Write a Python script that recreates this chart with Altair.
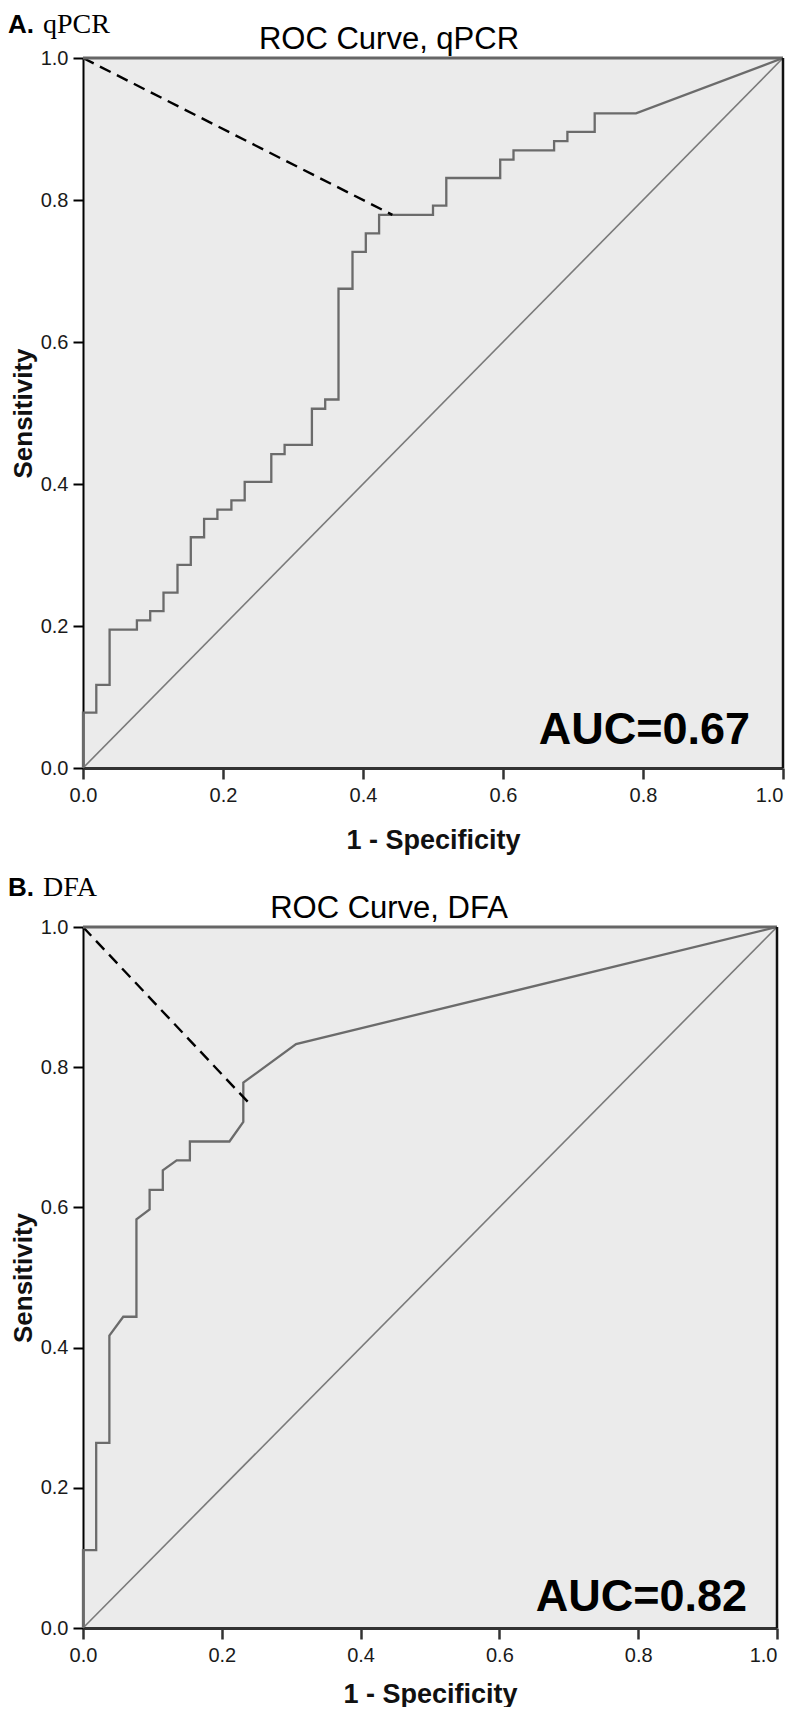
import altair as alt
import pandas as pd

# ---------------- data ----------------
A_FPR = [0.0, 0.0, 0.019, 0.019, 0.038, 0.038, 0.077, 0.077, 0.096, 0.096,
         0.115, 0.115, 0.135, 0.135, 0.154, 0.154, 0.173, 0.173, 0.192, 0.192,
         0.212, 0.212, 0.231, 0.231, 0.269, 0.269, 0.288, 0.288, 0.327, 0.327,
         0.346, 0.346, 0.365, 0.365, 0.385, 0.385, 0.404, 0.404, 0.423, 0.423,
         0.500, 0.500, 0.519, 0.519, 0.596, 0.596, 0.615, 0.615, 0.673, 0.673,
         0.692, 0.692, 0.731, 0.731, 0.790, 1.0]
A_TPR = [0.0, 0.078, 0.078, 0.117, 0.117, 0.195, 0.195, 0.208, 0.208, 0.221,
         0.221, 0.247, 0.247, 0.286, 0.286, 0.325, 0.325, 0.351, 0.351, 0.364,
         0.364, 0.377, 0.377, 0.403, 0.403, 0.442, 0.442, 0.455, 0.455, 0.506,
         0.506, 0.519, 0.519, 0.675, 0.675, 0.727, 0.727, 0.753, 0.753, 0.779,
         0.779, 0.792, 0.792, 0.831, 0.831, 0.857, 0.857, 0.870, 0.870, 0.883,
         0.883, 0.896, 0.896, 0.922, 0.922, 1.0]
A_CUT_X = [0.0, 0.442]
A_CUT_Y = [1.0, 0.779]

B_FPR = [0.0, 0.0, 0.019, 0.019, 0.038, 0.038, 0.058, 0.077, 0.077, 0.096,
         0.096, 0.115, 0.115, 0.135, 0.154, 0.154, 0.211, 0.231, 0.231, 0.307, 1.0]
B_TPR = [0.0, 0.111, 0.111, 0.264, 0.264, 0.417, 0.444, 0.444, 0.583, 0.597,
         0.625, 0.625, 0.653, 0.667, 0.667, 0.694, 0.694, 0.722, 0.778, 0.833, 1.0]
B_CUT_X = [0.0, 0.239]
B_CUT_Y = [1.0, 0.749]

DIAG = [0.0, 1.0]
TICKS = [0.0, 0.2, 0.4, 0.6, 0.8, 1.0]
LETTERS = ["A.", "B."]
NAMES = ["qPCR", "DFA"]
TITLES = ["ROC Curve, qPCR", "ROC Curve, DFA"]
AUCS = ["AUC=0.67", "AUC=0.82"]

SANS = "Liberation Sans"
SERIF = "Liberation Serif"


def panel(fpr, tpr, cut_x, cut_y, letter, name, title, auc, W, H,
          label_y, auc_x, auc_y, xtitle_y):
    curve = pd.DataFrame({"x": fpr, "y": tpr, "o": list(range(len(fpr)))})
    diag = pd.DataFrame({"x": DIAG, "y": DIAG, "o": [0, 1]})
    cut = pd.DataFrame({"x": cut_x, "y": cut_y, "o": [0, 1]})
    one = pd.DataFrame({"k": [0]})

    xaxis = alt.Axis(values=TICKS, format=".1f", grid=False,
                     domainColor="#333333", domainWidth=3,
                     tickColor="#333333", tickWidth=2.5, tickSize=11,
                     labelFont=SANS, labelFontSize=20, labelColor="#1a1a1a",
                     labelPadding=6, labelOverlap=False,
                     labelAlign={"condition": {"test": "datum.value >= 0.99",
                                               "value": "right"},
                                 "value": "center"},
                     titleFont=SANS, titleFontSize=27, titleFontWeight="bold",
                     titleColor="#111111", titleBaseline="alphabetic",
                     titleY=xtitle_y)
    yaxis = alt.Axis(values=TICKS, format=".1f", grid=False,
                     domainColor="#000000", domainWidth=2,
                     tickColor="#000000", tickWidth=2, tickSize=10,
                     labelFont=SANS, labelFontSize=20, labelColor="#1a1a1a",
                     labelPadding=5, labelOverlap=False,
                     titleFont=SANS, titleFontSize=26, titleFontWeight="bold",
                     titleColor="#111111", titleBaseline="alphabetic", titleX=-52)
    sx = alt.Scale(domain=[0, 1], nice=False, zero=False)
    sy = alt.Scale(domain=[0, 1], nice=False, zero=False)
    xe = alt.X("x:Q", scale=sx, axis=xaxis, title="1 - Specificity")
    ye = alt.Y("y:Q", scale=sy, axis=yaxis, title="Sensitivity")

    diag_l = alt.Chart(diag).mark_line(color="#7a7a7a", strokeWidth=1.6).encode(
        x=xe, y=ye, order="o:Q")
    curve_l = alt.Chart(curve).mark_line(color="#6b6b6b", strokeWidth=2.3).encode(
        x=xe, y=ye, order="o:Q")
    cut_l = alt.Chart(cut).mark_line(color="#000000", strokeWidth=2.4,
                                     strokeDash=[12, 7]).encode(x=xe, y=ye, order="o:Q")

    top = alt.Chart(one).mark_rule(color="#666666", strokeWidth=3).encode(
        x=alt.value(0), x2=alt.value(W), y=alt.value(0))
    right = alt.Chart(one).mark_rule(color="#111111", strokeWidth=2.5).encode(
        x=alt.value(W), y=alt.value(0), y2=alt.value(H))

    def txt(s, x, y, size, font=SANS, weight="normal", align="left"):
        return alt.Chart(one).mark_text(
            text=s, font=font, fontSize=size, fontWeight=weight, align=align,
            baseline="alphabetic", color="#000000").encode(
            x=alt.value(x), y=alt.value(y))

    layers = [
        diag_l, curve_l, cut_l, top, right,
        txt(letter, -75, label_y, 26, weight="bold"),
        txt(name, -40, label_y, 28, font=SERIF),
        txt(title, 306, -9, 31, align="center"),
        txt(auc, auc_x, auc_y, 45, weight="bold", align="right"),
    ]
    return alt.layer(*layers).properties(width=W, height=H)


pa = panel(A_FPR, A_TPR, A_CUT_X, A_CUT_Y, LETTERS[0], NAMES[0], TITLES[0], AUCS[0],
           700, 710, -25, 667, 686, 80)
pb = panel(B_FPR, B_TPR, B_CUT_X, B_CUT_Y, LETTERS[1], NAMES[1], TITLES[1], AUCS[1],
           694, 701, -31, 664, 684, 74)

chart = alt.vconcat(pa, pb, spacing=21).properties(
    padding={"left": 0, "top": 3, "right": 0, "bottom": 0},
    background="#ffffff",
).configure_view(fill="#EBEBEB", stroke=None)

chart.save("out.html", embed_options={"renderer": "svg", "actions": False})
